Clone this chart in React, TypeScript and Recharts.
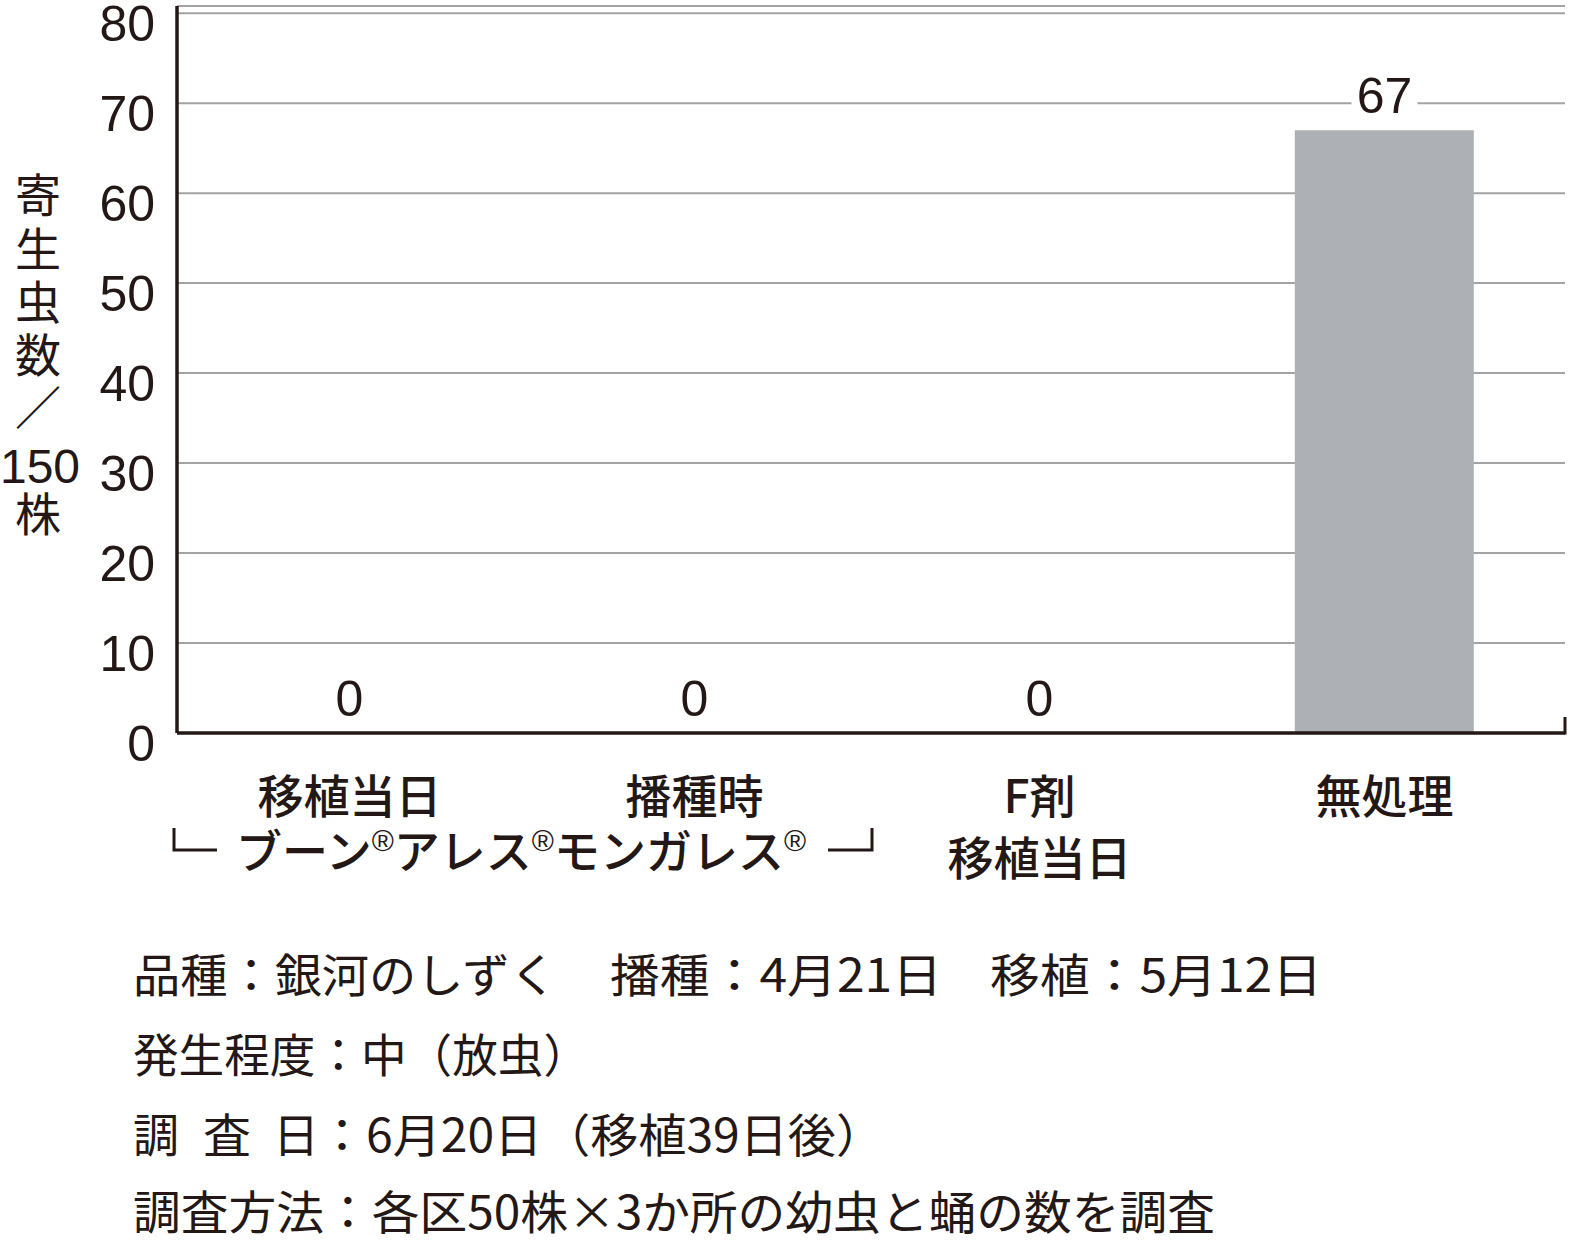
import React from "react";
import {
  ComposedChart,
  Bar,
  Line,
  XAxis,
  YAxis,
  CartesianGrid,
  LabelList,
} from "recharts";

// ---------- data ----------
const categories = ["移植当日", "播種時", "F剤", "無処理"];
const categorySubLabels = ["", "", "移植当日", ""];
const parasiteCounts = [0, 0, 0, 67];
const yTicks = [0, 10, 20, 30, 40, 50, 60, 70, 80];
const yAxisLabelParts = ["寄", "生", "虫", "数", "／", "150", "株"];
const bracketTextParts = ["ブーン", "アレス", "モンガレス"];
const footnoteLine1 = ["品種：銀河のしずく", "播種：4月21日", "移植：5月12日"];
const footnoteLine2 = ["発生程度：中（放虫）"];
const footnoteLine3 = ["調", "査", "日", "：6月20日（移植39日後）"];
const footnoteLine4 = ["調査方法：各区50株×3か所の幼虫と蛹の数を調査"];

// ---------- styling / layout ----------
const INK = "#231815";
const GRID = "#a3a3a3";
const BAR = "#adb0b4";
const CJK = '"Noto Sans CJK JP", "Noto Sans", sans-serif';
const LATIN = '"Liberation Sans", Arial, sans-serif';
const W = 1576;
const H = 1241;

const data = categories.map((name, i) => ({
  name,
  sub: categorySubLabels[i],
  value: parasiteCounts[i],
}));

// layout helpers for annotation text (positions, not data)
const yLabelCenters = [195, 249, 302, 355, 407, 466, 514];
const footnotes = [
  { y: 992, lines: footnoteLine1, segs: [{ x: 133, len: 424 }, { x: 610, len: 332 }, { x: 990, len: 332 }] },
  { y: 1072, lines: footnoteLine2, segs: [{ x: 133, len: 456 }] },
  {
    y: 1152,
    lines: footnoteLine3,
    segs: [
      { x: 133, len: 46 },
      { x: 203, len: 48 },
      { x: 273, len: 46 },
      { x: 318, len: 566 },
    ],
  },
  { y: 1229, lines: footnoteLine4, segs: [{ x: 133, len: 1082 }] },
];

const YTick = (props: any) => {
  const { x, y, payload } = props;
  return (
    <text
      x={x}
      y={y + 10}
      dy="0.355em"
      textAnchor="end"
      fontSize={50}
      fontFamily={LATIN}
      fill={INK}
    >
      {payload.value}
    </text>
  );
};

const XTick = (props: any) => {
  const { x, y, payload, index } = props;
  const i = payload && typeof payload.index === "number" ? payload.index : index;
  const sub = categorySubLabels[i];
  return (
    <g>
      <text
        x={x}
        y={y + 80}
        textAnchor="middle"
        fontSize={46}
        fontWeight={500}
        fontFamily={CJK}
        fill={INK}
      >
        {payload.value}
      </text>
      {sub ? (
        <text
          x={x}
          y={y + 142}
          textAnchor="middle"
          fontSize={46}
          fontWeight={500}
          fontFamily={CJK}
          fill={INK}
        >
          {sub}
        </text>
      ) : null}
    </g>
  );
};

const ValueLabel = (props: any) => {
  const vb = props.viewBox || props;
  const cx = Number(vb.x) + (Number(vb.width) || 0) / 2;
  const cy = Number(vb.y) - 35;
  const value = props.value;
  return (
    <g>
      <rect x={cx - 33} y={cy - 22} width={66} height={44} fill="#ffffff" />
      <text
        x={cx}
        y={cy}
        dy="0.355em"
        textAnchor="middle"
        fontSize={50}
        fontFamily={LATIN}
        fill={INK}
      >
        {value}
      </text>
    </g>
  );
};

export default function App() {
  return (
    <div
      style={{
        position: "absolute",
        left: 0,
        top: 0,
        width: W,
        height: H,
        background: "#ffffff",
      }}
    >
      <div style={{ position: "absolute", left: 0, top: 0 }}>
        <ComposedChart
          width={W}
          height={900}
          data={data}
          margin={{ top: 6, right: 11, left: 0, bottom: 107 }}
          barCategoryGap="24%"
        >
          <CartesianGrid
            vertical={false}
            horizontal={true}
            stroke={GRID}
            strokeWidth={2}
          />
          <YAxis
            width={177}
            domain={[0, 80.8]}
            ticks={yTicks}
            interval={0}
            allowDataOverflow
            tickLine={false}
            tickSize={0}
            tickMargin={22}
            axisLine={{ stroke: INK, strokeWidth: 3.5 }}
            tick={<YTick />}
          />
          <XAxis
            dataKey="name"
            height={60}
            interval={0}
            padding={{ left: 0, right: 8 }}
            tickLine={false}
            tickSize={0}
            tickMargin={0}
            axisLine={{ stroke: INK, strokeWidth: 3.5 }}
            tick={<XTick />}
          />
          <Bar dataKey="value" fill={BAR} isAnimationActive={false} />
          <Line
            dataKey="value"
            stroke="none"
            dot={false}
            activeDot={false}
            legendType="none"
            isAnimationActive={false}
          >
            <LabelList dataKey="value" content={<ValueLabel />} />
          </Line>
        </ComposedChart>
      </div>
      <svg
        width={W}
        height={H}
        style={{ position: "absolute", left: 0, top: 0, pointerEvents: "none" }}
      >
        {/* right end tick of x axis */}
        <path d="M1565,734.5 V717" stroke={INK} strokeWidth={3} fill="none" />

        {/* y axis title, stacked vertically in one text element */}
        <text textAnchor="middle" fontSize={46} fontFamily={CJK} fill={INK}>
          {yAxisLabelParts.map((t, i) => (
            <tspan
              key={i}
              x={t === "150" ? 40 : 38}
              y={yLabelCenters[i] + 17}
              fontSize={t === "150" ? 48 : 46}
              fontFamily={t === "150" ? LATIN : CJK}
            >
              {t}
            </tspan>
          ))}
        </text>

        {/* bracket grouping the first two categories */}
        <path d="M174,828 V850 H217" stroke={INK} strokeWidth={3} fill="none" />
        <path d="M828,850 H872 V828" stroke={INK} strokeWidth={3} fill="none" />
        <text
          x={236}
          y={868}
          fontSize={46}
          fontWeight={500}
          fontFamily={CJK}
          fill={INK}
        >
          {bracketTextParts.map((p, i) => (
            <React.Fragment key={i}>
              <tspan dy={i === 0 ? 0 : 17}>{p}</tspan>
              <tspan fontSize={30} fontFamily={LATIN} dy={-17}>
                ®
              </tspan>
            </React.Fragment>
          ))}
        </text>

        {/* footnotes */}
        {footnotes.map((f, li) =>
          f.lines.map((seg, si) => (
            <text
              key={`${li}-${si}`}
              x={f.segs[si].x}
              y={f.y}
              textLength={f.segs[si].len}
              lengthAdjust="spacingAndGlyphs"
              fontSize={46}
              fontFamily={CJK}
              fill={INK}
            >
              {seg}
            </text>
          ))
        )}
      </svg>
    </div>
  );
}
